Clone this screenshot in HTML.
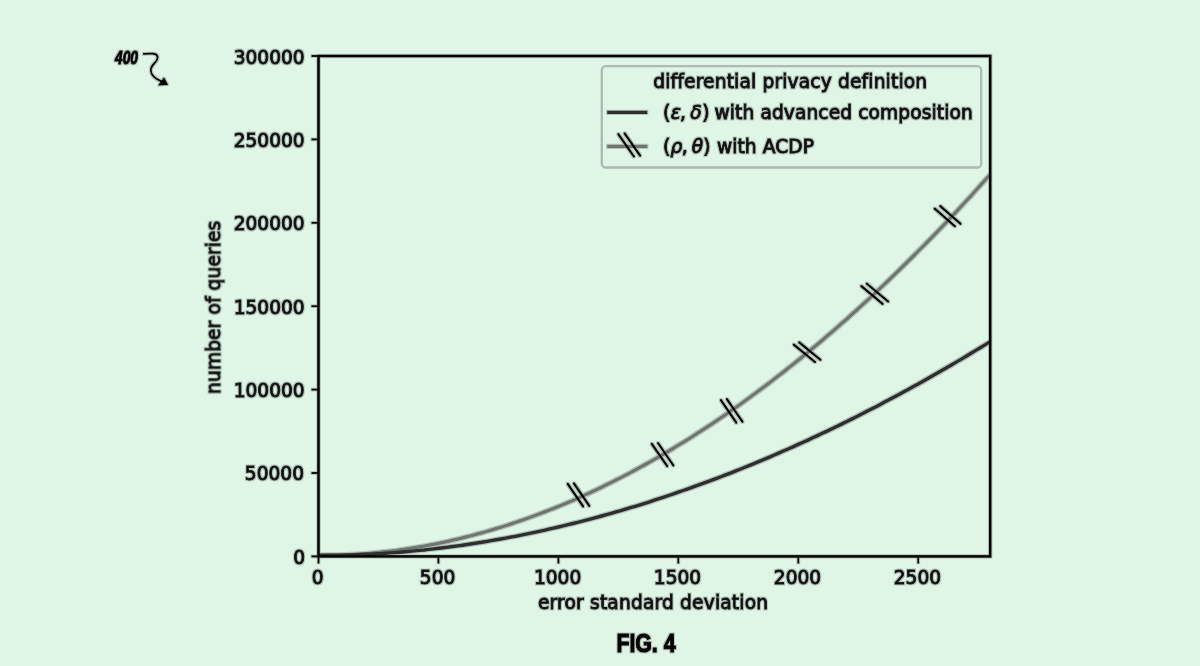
<!DOCTYPE html>
<html lang="en"><head><meta charset="utf-8"><title>FIG. 4</title>
<style>html,body{margin:0;padding:0;background:#dff5e6;}body{width:1200px;height:666px;overflow:hidden;}svg{display:block;}
.t{font-family:"DejaVu Sans","Liberation Sans",sans-serif;font-size:18.6px;fill:#111;stroke:#111;stroke-width:0.8px;}
.b{font-family:"Liberation Sans",sans-serif;font-weight:bold;fill:#000;}
</style></head><body>
<svg width="1200" height="666" viewBox="0 0 1200 666">
<rect width="1200" height="666" fill="#dff5e6"/>
<defs><filter id="h" x="0" y="0" width="1200" height="666" filterUnits="userSpaceOnUse"><feMorphology in="SourceAlpha" operator="dilate" radius="0.7" result="d"/><feGaussianBlur in="d" stdDeviation="0.6" result="b"/><feComponentTransfer in="b" result="c"><feFuncA type="linear" slope="0.2"/></feComponentTransfer><feMerge><feMergeNode in="c"/><feMergeNode in="SourceGraphic"/></feMerge></filter></defs>
<rect x="601.8" y="66.2" width="379.4" height="101.3" rx="4" ry="4" fill="none" stroke="#adb9b1" stroke-width="2.3"/>
<g filter="url(#h)">
<clipPath id="ax"><rect x="318.5" y="56.0" width="671.7" height="500.4"/></clipPath>
<g fill="none" stroke-linecap="butt" stroke-linejoin="round" clip-path="url(#ax)">
<path d="M318.5,555.2 L323.3,555.3 L328.1,555.2 L332.9,555.2 L337.7,555.1 L342.5,554.9 L347.3,554.7 L352.1,554.5 L356.9,554.2 L361.7,553.9 L366.5,553.6 L371.3,553.2 L376.1,552.7 L380.9,552.2 L385.7,551.7 L390.5,551.2 L395.3,550.6 L400.1,549.9 L404.9,549.2 L409.7,548.5 L414.5,547.7 L419.3,546.9 L424.1,546.1 L428.9,545.2 L433.6,544.3 L438.4,543.3 L443.2,542.3 L448.0,541.3 L452.8,540.2 L457.6,539.1 L462.4,537.9 L467.2,536.7 L472.0,535.5 L476.8,534.2 L481.6,532.9 L486.4,531.5 L491.2,530.1 L496.0,528.7 L500.8,527.2 L505.6,525.7 L510.4,524.1 L515.2,522.5 L520.0,520.9 L524.8,519.2 L529.6,517.5 L534.4,515.8 L539.2,514.0 L544.0,512.1 L548.8,510.3 L553.6,508.4 L558.4,506.4 L563.2,504.4 L568.0,502.4 L572.8,500.4 L577.6,498.3 L582.4,496.1 L587.2,493.9 L592.0,491.7 L596.8,489.5 L601.6,487.2 L606.4,484.8 L611.2,482.5 L616.0,480.1 L620.8,477.6 L625.6,475.1 L630.4,472.6 L635.2,470.0 L640.0,467.4 L644.8,464.8 L649.6,462.1 L654.4,459.4 L659.1,456.7 L663.9,453.9 L668.7,451.0 L673.5,448.2 L678.3,445.2 L683.1,442.3 L687.9,439.3 L692.7,436.3 L697.5,433.2 L702.3,430.1 L707.1,427.0 L711.9,423.8 L716.7,420.6 L721.5,417.3 L726.3,414.1 L731.1,410.7 L735.9,407.4 L740.7,404.0 L745.5,400.5 L750.3,397.0 L755.1,393.5 L759.9,389.9 L764.7,386.4 L769.5,382.7 L774.3,379.0 L779.1,375.3 L783.9,371.6 L788.7,367.8 L793.5,364.0 L798.3,360.1 L803.1,356.2 L807.9,352.3 L812.7,348.3 L817.5,344.3 L822.3,340.2 L827.1,336.1 L831.9,332.0 L836.7,327.8 L841.5,323.6 L846.3,319.4 L851.1,315.1 L855.9,310.8 L860.7,306.4 L865.5,302.0 L870.3,297.6 L875.1,293.1 L879.8,288.6 L884.6,284.1 L889.4,279.5 L894.2,274.9 L899.0,270.2 L903.8,265.5 L908.6,260.8 L913.4,256.0 L918.2,251.2 L923.0,246.4 L927.8,241.5 L932.6,236.6 L937.4,231.6 L942.2,226.6 L947.0,221.6 L951.8,216.5 L956.6,211.4 L961.4,206.2 L966.2,201.0 L971.0,195.8 L975.8,190.5 L980.6,185.2 L985.4,179.9 L990.2,174.5" stroke="#6f746f" stroke-width="3.3"/>
<path d="M318.5,555.2 L323.3,555.3 L328.1,555.3 L332.9,555.2 L337.7,555.2 L342.5,555.1 L347.3,555.0 L352.1,554.9 L356.9,554.7 L361.7,554.5 L366.5,554.3 L371.3,554.1 L376.1,553.8 L380.9,553.6 L385.7,553.2 L390.5,552.9 L395.3,552.6 L400.1,552.2 L404.9,551.8 L409.7,551.4 L414.5,550.9 L419.3,550.4 L424.1,550.0 L428.9,549.4 L433.6,548.9 L438.4,548.3 L443.2,547.7 L448.0,547.1 L452.8,546.5 L457.6,545.9 L462.4,545.2 L467.2,544.5 L472.0,543.8 L476.8,543.0 L481.6,542.2 L486.4,541.5 L491.2,540.6 L496.0,539.8 L500.8,539.0 L505.6,538.1 L510.4,537.2 L515.2,536.3 L520.0,535.3 L524.8,534.4 L529.6,533.4 L534.4,532.4 L539.2,531.3 L544.0,530.3 L548.8,529.2 L553.6,528.1 L558.4,527.0 L563.2,525.9 L568.0,524.7 L572.8,523.5 L577.6,522.3 L582.4,521.1 L587.2,519.9 L592.0,518.6 L596.8,517.3 L601.6,516.0 L606.4,514.7 L611.2,513.3 L616.0,511.9 L620.8,510.6 L625.6,509.1 L630.4,507.7 L635.2,506.3 L640.0,504.8 L644.8,503.3 L649.6,501.8 L654.4,500.2 L659.1,498.7 L663.9,497.1 L668.7,495.5 L673.5,493.9 L678.3,492.2 L683.1,490.5 L687.9,488.9 L692.7,487.2 L697.5,485.4 L702.3,483.7 L707.1,481.9 L711.9,480.1 L716.7,478.3 L721.5,476.5 L726.3,474.6 L731.1,472.8 L735.9,470.9 L740.7,469.0 L745.5,467.0 L750.3,465.1 L755.1,463.1 L759.9,461.1 L764.7,459.1 L769.5,457.1 L774.3,455.0 L779.1,452.9 L783.9,450.8 L788.7,448.7 L793.5,446.6 L798.3,444.4 L803.1,442.2 L807.9,440.1 L812.7,437.8 L817.5,435.6 L822.3,433.3 L827.1,431.1 L831.9,428.8 L836.7,426.4 L841.5,424.1 L846.3,421.7 L851.1,419.4 L855.9,417.0 L860.7,414.5 L865.5,412.1 L870.3,409.6 L875.1,407.2 L879.8,404.7 L884.6,402.1 L889.4,399.6 L894.2,397.0 L899.0,394.4 L903.8,391.8 L908.6,389.2 L913.4,386.6 L918.2,383.9 L923.0,381.2 L927.8,378.5 L932.6,375.8 L937.4,373.1 L942.2,370.3 L947.0,367.5 L951.8,364.7 L956.6,361.9 L961.4,359.1 L966.2,356.2 L971.0,353.3 L975.8,350.4 L980.6,347.5 L985.4,344.6 L990.2,341.6" stroke="#2e2e2e" stroke-width="3.4"/>
</g>
<g stroke="#000" stroke-width="2.1" stroke-linecap="round">
<line x1="567.7" y1="483.9" x2="583.1" y2="506.4"/><line x1="573.9" y1="483.3" x2="589.3" y2="505.8"/>
<line x1="651.8" y1="443.8" x2="667.2" y2="466.2"/><line x1="658.0" y1="443.0" x2="673.4" y2="465.5"/>
<line x1="720.9" y1="400.1" x2="736.3" y2="422.6"/><line x1="726.9" y1="399.1" x2="742.4" y2="421.6"/>
<line x1="793.8" y1="344.6" x2="815.0" y2="362.0"/><line x1="799.2" y1="342.4" x2="820.4" y2="359.8"/>
<line x1="861.4" y1="286.1" x2="882.6" y2="303.9"/><line x1="866.9" y1="283.7" x2="888.1" y2="301.5"/>
<line x1="934.7" y1="208.6" x2="954.9" y2="226.2"/><line x1="940.3" y1="206.1" x2="960.5" y2="223.8"/>
</g>
<g stroke="#000" stroke-width="2.5" fill="none">
<rect x="318.5" y="56.0" width="671.7" height="500.4"/>
</g>
<g stroke="#000" stroke-width="1.8">
<line x1="318.5" y1="556.4" x2="318.5" y2="563.4"/>
<line x1="438.4" y1="556.4" x2="438.4" y2="563.4"/>
<line x1="558.4" y1="556.4" x2="558.4" y2="563.4"/>
<line x1="678.3" y1="556.4" x2="678.3" y2="563.4"/>
<line x1="798.3" y1="556.4" x2="798.3" y2="563.4"/>
<line x1="918.2" y1="556.4" x2="918.2" y2="563.4"/>
<line x1="311.5" y1="556.4" x2="318.5" y2="556.4"/>
<line x1="311.5" y1="473.0" x2="318.5" y2="473.0"/>
<line x1="311.5" y1="389.6" x2="318.5" y2="389.6"/>
<line x1="311.5" y1="306.2" x2="318.5" y2="306.2"/>
<line x1="311.5" y1="222.8" x2="318.5" y2="222.8"/>
<line x1="311.5" y1="139.4" x2="318.5" y2="139.4"/>
<line x1="311.5" y1="56.0" x2="318.5" y2="56.0"/>
</g>
<g class="t">
<text x="317.7" y="584" text-anchor="middle">0</text>
<text x="437.6" y="584" text-anchor="middle">500</text>
<text x="557.6" y="584" text-anchor="middle">1000</text>
<text x="677.5" y="584" text-anchor="middle">1500</text>
<text x="797.5" y="584" text-anchor="middle">2000</text>
<text x="917.4" y="584" text-anchor="middle">2500</text>
<text x="305.2" y="563.8" text-anchor="end">0</text>
<text x="304.0" y="480.4" text-anchor="end">50000</text>
<text x="304.7" y="397.0" text-anchor="end">100000</text>
<text x="304.7" y="313.6" text-anchor="end">150000</text>
<text x="304.7" y="230.2" text-anchor="end">200000</text>
<text x="304.7" y="146.8" text-anchor="end">250000</text>
<text x="304.7" y="64.2" text-anchor="end">300000</text>
<text x="653.1" y="609.3" text-anchor="middle" letter-spacing="0.19">error standard deviation</text>
<text transform="translate(220.1,307.3) rotate(-90)" text-anchor="middle" letter-spacing="0.12">number of queries</text>
</g>
<g class="t">
<text x="790.3" y="87.8" text-anchor="middle" letter-spacing="0.175">differential privacy definition</text>
<text x="662.9" y="119"><tspan>(</tspan><tspan font-style="italic" dx="0.7">ε</tspan><tspan dx="-1">, </tspan><tspan font-style="italic" dx="-1.5">δ</tspan><tspan dx="0.5">)</tspan><tspan dx="-1" letter-spacing="0.12"> with advanced composition</tspan></text>
<text x="662.9" y="153.2"><tspan>(</tspan><tspan font-style="italic" dx="0.3">ρ</tspan><tspan dx="-0.6">, </tspan><tspan font-style="italic" dx="-1.7">θ</tspan><tspan>)</tspan><tspan dx="0.5" letter-spacing="0.08"> with ACDP</tspan></text>
</g>
<line x1="607.2" y1="112.3" x2="647.3" y2="112.3" stroke="#2e2e2e" stroke-width="3.3"/>
<line x1="607.2" y1="146.4" x2="647.3" y2="146.4" stroke="#6f746f" stroke-width="3.3"/>
<g stroke="#000" stroke-width="2.1" stroke-linecap="round">
<line x1="618.3" y1="134.2" x2="633.9" y2="156.5"/><line x1="624.6" y1="133.3" x2="640.1" y2="155.7"/>
</g>
<text class="b" font-style="italic" font-size="18.6" stroke="#000" stroke-width="0.9" stroke-linejoin="round" transform="translate(115,63.8) scale(0.74,1)">400</text>
<path d="M143.8,53.8 C147,53.6 150.5,53.5 153,53.7 C156.4,54.1 158,55.8 157.5,58.4 C157,61.4 153.2,64 151.6,67 C150.3,69.8 150.9,73.2 153.2,76 C155.3,78.5 158.5,80.2 162,81.6" fill="none" stroke="#000" stroke-width="1.8" stroke-linecap="round"/>
<path d="M168.2,85 L164,77.2 L158,85.6 Z" fill="#000"/>
<text class="b" font-size="26.6" stroke="#000" stroke-width="1" stroke-linejoin="round" transform="translate(616.4,652.1) scale(0.80,1)">FIG. 4</text>
</g>
</svg></body></html>
